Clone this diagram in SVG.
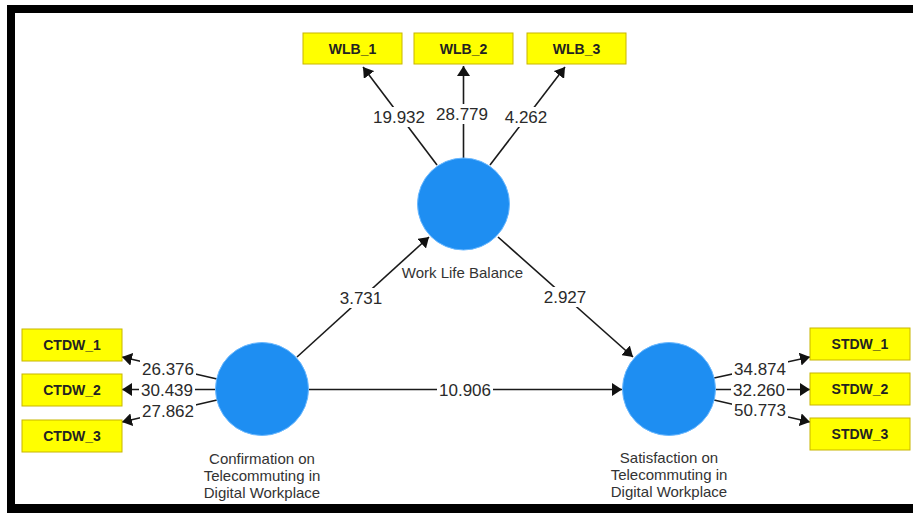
<svg xmlns="http://www.w3.org/2000/svg" width="913" height="513" viewBox="0 0 913 513">
  <style>
    .box { fill: #ffff00; stroke: #c8b600; stroke-width: 1; }
    .boxt { font-family: "Liberation Sans", Arial, sans-serif; font-size: 14px; font-weight: bold; fill: #222; text-anchor: middle; }
    .lv { fill: #1e8ef2; stroke: #6ab8ff; stroke-width: 1; }
    .lvt { font-family: "Liberation Sans", Arial, sans-serif; font-size: 15px; fill: #333; text-anchor: middle; }
    .con { stroke: #1a1a1a; stroke-width: 1.6; fill: none; marker-end: url(#ah); }
    .lbg { fill: #ffffff; }
    .num { font-family: "Liberation Sans", Arial, sans-serif; font-size: 17px; fill: #2a2a2a; text-anchor: middle; }
  </style>
  <defs>
    <marker id="ah" markerUnits="userSpaceOnUse" markerWidth="12" markerHeight="13" refX="10" refY="6.5" orient="auto">
      <path d="M0,0 L10,6.5 L0,13 Z" fill="#111"/>
    </marker>
  </defs>
  <rect width="913" height="513" fill="#ffffff"/>
  <!-- frame -->
  <path d="M7,5 H913 V13 H15 V504 H913 V513 H7 Z" fill="#000"/>

  <g id="connectors">
    <line class="con" x1="437" y1="165" x2="363" y2="67"/>
    <line class="con" x1="463.5" y1="158" x2="463.5" y2="66"/>
    <line class="con" x1="490" y1="165" x2="565" y2="67"/>
    <line class="con" x1="217" y1="379" x2="122" y2="357"/>
    <line class="con" x1="216" y1="389.5" x2="122" y2="389.5"/>
    <line class="con" x1="217" y1="400" x2="122" y2="422"/>
    <line class="con" x1="714" y1="378" x2="810" y2="357"/>
    <line class="con" x1="715" y1="389.5" x2="810" y2="389.5"/>
    <line class="con" x1="714" y1="400" x2="810" y2="422"/>
    <line class="con" x1="297" y1="357" x2="429" y2="237"/>
    <line class="con" x1="498" y1="237" x2="633" y2="357"/>
    <line class="con" x1="308" y1="389.5" x2="622" y2="389.5"/>

    <rect class="lbg" x="371" y="107" width="56" height="20"/>
    <text class="num" x="399" y="123">19.932</text>
    <rect class="lbg" x="434" y="104" width="56" height="20"/>
    <text class="num" x="462" y="120">28.779</text>
    <rect class="lbg" x="503" y="107" width="46" height="20"/>
    <text class="num" x="526" y="123">4.262</text>

    <rect class="lbg" x="140" y="359" width="56" height="20"/>
    <text class="num" x="168" y="375">26.376</text>
    <rect class="lbg" x="139" y="380" width="56" height="19"/>
    <text class="num" x="167" y="395.5">30.439</text>
    <rect class="lbg" x="140" y="401" width="56" height="20"/>
    <text class="num" x="168" y="417">27.862</text>

    <rect class="lbg" x="732" y="359" width="56" height="20"/>
    <text class="num" x="760" y="375">34.874</text>
    <rect class="lbg" x="731" y="380" width="56" height="19"/>
    <text class="num" x="759" y="395.5">32.260</text>
    <rect class="lbg" x="732" y="400" width="56" height="20"/>
    <text class="num" x="760" y="416">50.773</text>

    <rect class="lbg" x="338" y="288" width="46" height="20"/>
    <text class="num" x="361" y="304">3.731</text>
    <rect class="lbg" x="542" y="287" width="46" height="20"/>
    <text class="num" x="565" y="303">2.927</text>
    <rect class="lbg" x="437" y="380" width="56" height="19"/>
    <text class="num" x="465" y="396">10.906</text>
  </g>

  <g id="WLB_1"><rect class="box" x="303" y="33" width="99" height="31"/><text class="boxt" x="352.5" y="53.5">WLB_1</text></g>
  <g id="WLB_2"><rect class="box" x="414" y="33" width="99" height="31"/><text class="boxt" x="463.5" y="53.5">WLB_2</text></g>
  <g id="WLB_3"><rect class="box" x="527" y="33" width="99" height="31"/><text class="boxt" x="576.5" y="53.5">WLB_3</text></g>

  <g id="CTDW_1"><rect class="box" x="22" y="329" width="100" height="32"/><text class="boxt" x="72" y="350">CTDW_1</text></g>
  <g id="CTDW_2"><rect class="box" x="22" y="374" width="100" height="32"/><text class="boxt" x="72" y="395">CTDW_2</text></g>
  <g id="CTDW_3"><rect class="box" x="22" y="420" width="100" height="32"/><text class="boxt" x="72" y="441">CTDW_3</text></g>

  <g id="STDW_1"><rect class="box" x="810" y="328" width="100" height="32"/><text class="boxt" x="860" y="349">STDW_1</text></g>
  <g id="STDW_2"><rect class="box" x="810" y="373" width="100" height="32"/><text class="boxt" x="860" y="394">STDW_2</text></g>
  <g id="STDW_3"><rect class="box" x="810" y="418" width="100" height="32"/><text class="boxt" x="860" y="439">STDW_3</text></g>

  <g id="WorkLifeBalance">
    <circle class="lv" cx="463.5" cy="204" r="46"/>
    <text class="lvt" x="462.5" y="278">Work Life Balance</text>
  </g>
  <g id="Confirmation">
    <circle class="lv" cx="262" cy="389" r="46.5"/>
    <text class="lvt" x="262" y="464">Confirmation on</text>
    <text class="lvt" x="262" y="481">Telecommuting in</text>
    <text class="lvt" x="262" y="498">Digital Workplace</text>
  </g>
  <g id="Satisfaction">
    <circle class="lv" cx="669" cy="389" r="46.5"/>
    <text class="lvt" x="669" y="463">Satisfaction on</text>
    <text class="lvt" x="669" y="480">Telecommuting in</text>
    <text class="lvt" x="669" y="497">Digital Workplace</text>
  </g>
</svg>
